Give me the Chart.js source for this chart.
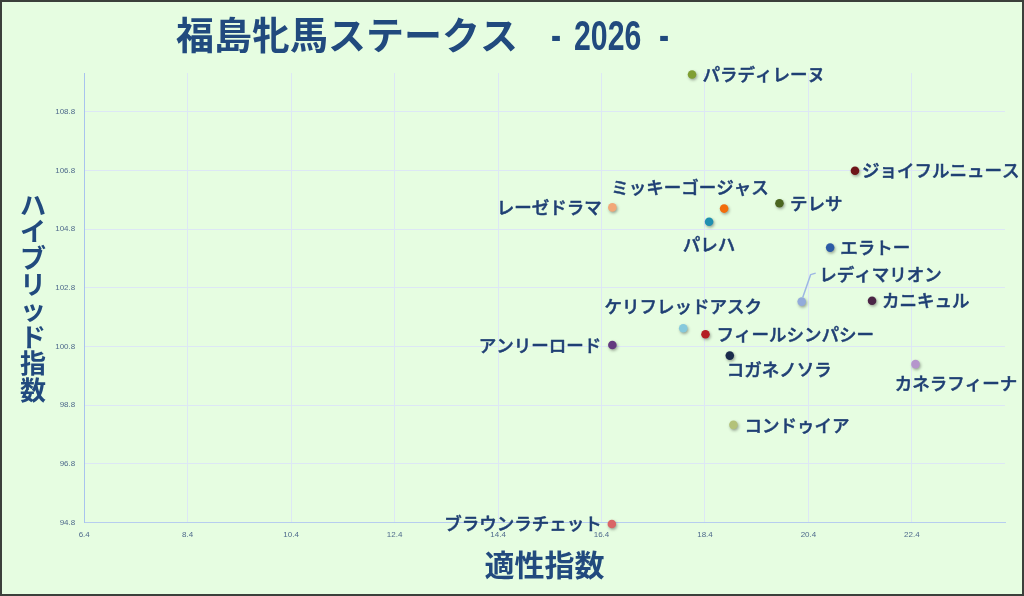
<!DOCTYPE html>
<html>
<head>
<meta charset="utf-8">
<script src="https://cdn.jsdelivr.net/npm/chart.js@4.4.1/dist/chart.umd.min.js"></script>
<style>
html,body{margin:0;padding:0;background:#e6fde1;}
canvas{display:block;}
</style>
</head>
<body>
<canvas id="c" width="1024" height="596"></canvas>
<script>
// ---- data ----
const horseNames = ["パラディレーヌ","ジョイフルニュース","テレサ","ミッキーゴージャス","レーゼドラマ","パレハ","エラトー","レディマリオン","カニキュル","ケリフレッドアスク","フィールシンパシー","アンリーロード","コガネノソラ","カネラフィーナ","コンドゥイア","ブラウンラチェット"];
const aptitudeIndex = [18.15, 21.30, 19.84, 18.77, 16.61, 18.48, 20.82, 20.27, 21.63, 17.98, 18.41, 16.61, 18.88, 22.47, 18.95, 16.60];
const hybridIndex   = [110.07, 106.79, 105.68, 105.50, 105.54, 105.05, 104.17, 102.33, 102.36, 101.42, 101.22, 100.85, 100.49, 100.20, 98.13, 94.75];
const pointColors = ["#7f9f33","#6e1518","#4b6620","#f26d0c","#f2a878","#1f8fb0","#2d5ca6","#93abda","#4a2546","#86c9dc","#b41f24","#643a80","#1a2b4c","#b595cc","#b3c27a","#d96466"];
const xTickValues = [6.4, 8.4, 10.4, 12.4, 14.4, 16.4, 18.4, 20.4, 22.4];
const yTickValues = [94.8, 96.8, 98.8, 100.8, 102.8, 104.8, 106.8, 108.8];
const titleMain = "福島牝馬ステークス";
const titleYear = "2026";
const xAxisTitle = "適性指数";
const yAxisTitle = "ハイブリッド指数";

// ---- label placement (style only) ----
const labelPlacement = [
  {align:'left',   dx: 10.5, dy: 0},
  {align:'left',   dx: 7,    dy: 0},
  {align:'left',   dx: 10.5, dy: 0},
  {align:'center', dx: -34,  dy: -21},
  {align:'right',  dx: -10.5,dy: 0},
  {align:'center', dx: 0,    dy: 23},
  {align:'left',   dx: 10,   dy: 0},
  {align:'left',   dx: 17.6, dy: -27, leader: true},
  {align:'left',   dx: 10,   dy: 0},
  {align:'center', dx: 0,    dy: -22},
  {align:'left',   dx: 11,   dy: 0},
  {align:'right',  dx: -11,  dy: 0},
  {align:'left',   dx: -3,   dy: 14},
  {align:'left',   dx: -20.7,dy: 19.5},
  {align:'left',   dx: 11,   dy: 0},
  {align:'right',  dx: -10,  dy: -1}
];

const TEXT_BLUE = '#1f3f74';
const TITLE_BLUE = '#214a7e';
const JP = '"Noto Sans CJK JP", "Noto Sans", sans-serif';

const bgPlugin = {
  id: 'bg',
  beforeDraw(chart) {
    const {ctx, width, height} = chart;
    ctx.save();
    ctx.fillStyle = '#e6fde1';
    ctx.fillRect(0, 0, width, height);
    ctx.restore();
  },
  afterDraw(chart) {
    const {ctx, width, height, chartArea} = chart;
    ctx.save();
    // frame
    ctx.fillStyle = '#3b403b';
    ctx.fillRect(0, 0, width, 2);
    ctx.fillRect(0, height - 2, width, 2);
    ctx.fillRect(0, 0, 2, height);
    ctx.fillRect(width - 2, 0, 2, height);
    // main title
    ctx.fillStyle = TITLE_BLUE;
    ctx.textBaseline = 'alphabetic';
    ctx.textAlign = 'left';
    ctx.font = 'bold 38px ' + JP;
    ctx.fillText(titleMain, 176, 49);
    ctx.font = 'bold 42px "Liberation Sans Narrow", "Liberation Sans", sans-serif';
    const drawNarrow = (txt, x) => {
      ctx.save();
      ctx.translate(x, 50);
      ctx.scale(0.72, 1);
      ctx.fillText(txt, 0, 0);
      ctx.restore();
    };
    drawNarrow('-', 551);
    drawNarrow(titleYear, 574);
    drawNarrow('-', 659);
    // x axis title
    ctx.font = 'bold 30px ' + JP;
    ctx.textAlign = 'center';
    ctx.textBaseline = 'middle';
    ctx.fillText(xAxisTitle, (chartArea.left + chartArea.right) / 2, 565);
    // y axis title, stacked vertically
    ctx.font = 'bold 26px ' + JP;
    const chars = Array.from(yAxisTitle);
    const step = 26.4;
    const startY = 205;
    chars.forEach((ch, i) => ctx.fillText(ch, 33, startY + i * step));
    ctx.restore();
  }
};

const shadowPlugin = {
  id: 'shadow',
  beforeDatasetsDraw(chart) {
    const ctx = chart.ctx;
    ctx.save();
    ctx.shadowColor = 'rgba(0,0,0,0.35)';
    ctx.shadowBlur = 3;
    ctx.shadowOffsetX = 1;
    ctx.shadowOffsetY = 1.5;
  },
  afterDatasetsDraw(chart) {
    chart.ctx.restore();
  }
};

const labelPlugin = {
  id: 'labels',
  afterDatasetsDraw(chart) {
    const ctx = chart.ctx;
    const meta = chart.getDatasetMeta(0);
    ctx.save();
    ctx.font = '500 17.5px ' + JP;
    ctx.fillStyle = TEXT_BLUE;
    ctx.strokeStyle = TEXT_BLUE;
    ctx.lineWidth = 0.5;
    ctx.lineJoin = 'round';
    ctx.textBaseline = 'middle';
    meta.data.forEach((pt, i) => {
      const p = labelPlacement[i];
      const px = pt.x, py = pt.y;
      if (p.leader) {
        ctx.save();
        ctx.strokeStyle = '#9db7e4';
        ctx.lineWidth = 1.5;
        ctx.beginPath();
        ctx.moveTo(px + 1, py - 4);
        ctx.lineTo(px + 9, py - 27);
        ctx.lineTo(px + 14, py - 28.5);
        ctx.stroke();
        ctx.restore();
      }
      ctx.textAlign = p.align;
      ctx.fillText(horseNames[i], px + p.dx, py + p.dy);
      ctx.strokeText(horseNames[i], px + p.dx, py + p.dy);
    });
    ctx.restore();
  }
};

const points = aptitudeIndex.map((x, i) => ({x: x, y: hybridIndex[i]}));

new Chart(document.getElementById('c'), {
  type: 'scatter',
  data: {
    datasets: [{
      data: points,
      backgroundColor: pointColors,
      borderColor: pointColors,
      borderWidth: 0,
      pointRadius: 4.3,
      pointHoverRadius: 4.3,
      clip: false
    }]
  },
  plugins: [bgPlugin, shadowPlugin, labelPlugin],
  options: {
    responsive: false,
    devicePixelRatio: 1,
    animation: false,
    layout: { padding: { top: 73, right: 19, left: 0, bottom: 0 } },
    plugins: { legend: { display: false }, tooltip: { enabled: false }, title: { display: false } },
    scales: {
      x: {
        type: 'linear',
        min: 6.4,
        max: 24.2,
        afterBuildTicks: s => { s.ticks = xTickValues.map(v => ({value: v})); },
        afterFit: s => { s.height = 73.4; },
        grid: { color: '#dde7f5', lineWidth: 1, drawTicks: false },
        border: { color: '#b7cdef', width: 1 },
        ticks: {
          padding: 7,
          color: '#4f6a8c',
          font: { family: '"Liberation Sans", sans-serif', size: 8 },
          maxRotation: 0,
          autoSkip: false,
          callback: v => Number(v).toFixed(1)
        }
      },
      y: {
        type: 'linear',
        min: 94.8,
        max: 110.12,
        afterBuildTicks: s => { s.ticks = yTickValues.map(v => ({value: v})); },
        afterFit: s => { s.width = 84.2; },
        grid: { color: '#dde7f5', lineWidth: 1, drawTicks: false },
        border: { color: '#a9c3ee', width: 1 },
        ticks: {
          padding: 9,
          color: '#4f6a8c',
          font: { family: '"Liberation Sans", sans-serif', size: 8 },
          autoSkip: false,
          callback: v => Number(v).toFixed(1)
        }
      }
    }
  }
});
</script>
</body>
</html>
